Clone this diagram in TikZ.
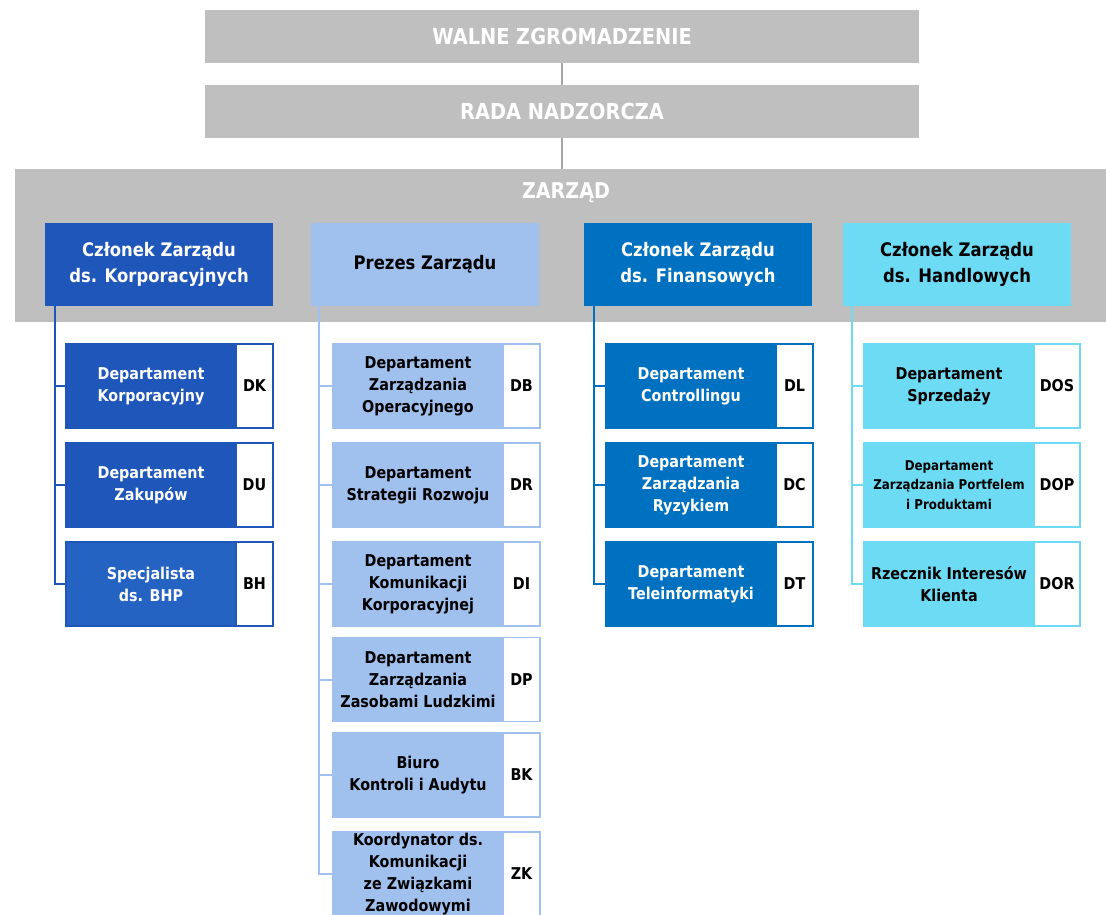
\documentclass[tikz,border=0pt]{standalone}
\usepackage{fontspec}
\setmainfont{DejaVu Sans}[FakeStretch=0.88]
\usetikzlibrary{positioning}
\definecolor{zgray}{HTML}{BFBFBF}
\definecolor{zline}{HTML}{A6A6A6}
\definecolor{kblue}{HTML}{1F56BA}
\definecolor{kblueb}{HTML}{2563C3}
\definecolor{pblue}{HTML}{A0C0EE}
\definecolor{fblue}{HTML}{0070C0}
\definecolor{hcyan}{HTML}{6EDBF5}
\newcommand{\pxu}{0.75pt}

\begin{document}
\begin{tikzpicture}[x=0.75pt,y=-0.75pt,node distance=0pt,
  topbox/.style={fill=zgray,text=white,minimum width=714*\pxu,minimum height=53*\pxu,font=\bfseries\fontsize{16.5}{20}\selectfont},
  headbox/.style={fill=#1,minimum width=228*\pxu,minimum height=83*\pxu,align=center,font=\bfseries\fontsize{14}{19.5}\selectfont},
  deptbox/.style={fill=#1,draw=#1,line width=1.1pt,outer sep=0pt,minimum width=170*\pxu,minimum height=84*\pxu,inner sep=1pt,align=center,font=\bfseries\fontsize{12.2}{16.5}\selectfont},
  codebox/.style={fill=white,draw=#1,line width=1.1pt,outer sep=0pt,minimum width=37*\pxu,minimum height=84*\pxu,inner sep=0pt,font=\bfseries\fontsize{12.2}{16.5}\selectfont},
  smalltext/.style={font=\bfseries\fontsize{10.1}{14.6}\selectfont},
  treeline/.style={draw=#1,line width=1.5pt},
  topline/.style={draw=zline,line width=1.5pt}]
  \useasboundingbox (0,0) rectangle (1106,914);

  % supervisory levels
  \node[topbox] (wz) at (562,36) {WALNE ZGROMADZENIE};
  \node[topbox] (rn) at (562,111.5) {RADA NADZORCZA};
  \node[fill=zgray,minimum width=1091*\pxu,minimum height=153*\pxu] (zd) at (560.5,245.5) {};
  \node[text=white,font=\bfseries\fontsize{16.3}{20}\selectfont] (zdt) at (566,193) {ZARZĄD};
  \draw[topline] (wz) -- (rn);
  \draw[topline] (rn.south) -- (rn.south |- zd.north);

  % board members
  \node[headbox=kblue,text=white] (h1) at (159,264.5) {Członek Zarządu\\ds. Korporacyjnych};
  \node[headbox=pblue] (h2) at (425,264.5) {Prezes Zarządu};
  \node[headbox=fblue,text=white] (h3) at (698,264.5) {Członek Zarządu\\ds. Finansowych};
  \node[headbox=hcyan] (h4) at (957,264.5) {Członek Zarządu\\ds. Handlowych};

  \coordinate (t1) at ([xshift=7.5pt]h1.south west);
  \coordinate (t2) at ([xshift=6pt]h2.south west);
  \coordinate (t3) at ([xshift=7.5pt]h3.south west);
  \coordinate (t4) at ([xshift=6.75pt]h4.south west);

  % departments
  \foreach \nm/\yy/\fc/\txt/\cd in {dk/386/kblue/{Departament\\Korporacyjny}/DK,
      du/485/kblue/{Departament\\Zakupów}/DU,
      bh/584/kblueb/{Specjalista\\ds. BHP}/BH}{
    \draw[treeline=kblue] (t1) |- (151,\yy);
    \node[deptbox=\fc,draw=kblue,text=white] (\nm) at (151,\yy) {\txt};
    \node[codebox=kblue,right=of \nm] (\nm-c) {\cd};
  }
  \foreach \nm/\yy/\txt/\cd in {db/386/{Departament\\Zarządzania\\Operacyjnego}/DB,
      dr/485/{Departament\\Strategii Rozwoju}/DR,
      di/584/{Departament\\Komunikacji\\Korporacyjnej}/DI,
      dp/679.5/{Departament\\Zarządzania\\Zasobami Ludzkimi}/DP,
      bk/775/{Biuro\\Kontroli i Audytu}/BK,
      zk/874/{Koordynator ds.\\Komunikacji\\ze Związkami\\Zawodowymi}/ZK}{
    \draw[treeline=pblue] (t2) |- (418,\yy);
    \node[deptbox=pblue] (\nm) at (418,\yy) {\txt};
    \node[codebox=pblue,right=of \nm] (\nm-c) {\cd};
  }
  \foreach \nm/\yy/\txt/\cd in {dl/386/{Departament\\Controllingu}/DL,
      dc/485/{Departament\\Zarządzania\\Ryzykiem}/DC,
      dt/584/{Departament\\Teleinformatyki}/DT}{
    \draw[treeline=fblue] (t3) |- (691,\yy);
    \node[deptbox=fblue,text=white] (\nm) at (691,\yy) {\txt};
    \node[codebox=fblue,right=of \nm] (\nm-c) {\cd};
  }
  \foreach \nm/\yy/\txt/\cd in {dos/386/{Departament\\Sprzedaży}/DOS,
      dor/584/{Rzecznik Interesów\\Klienta}/DOR}{
    \draw[treeline=hcyan] (t4) |- (949,\yy);
    \node[deptbox=hcyan] (\nm) at (949,\yy) {\txt};
    \node[codebox=hcyan,minimum width=46*\pxu,right=of \nm] (\nm-c) {\cd};
  }
  \draw[treeline=hcyan] (t4) |- (949,485);
  \node[deptbox=hcyan,smalltext] (dop) at (949,485) {Departament\\Zarządzania Portfelem\\i Produktami};
  \node[codebox=hcyan,minimum width=46*\pxu,right=of dop] (dop-c) {DOP};
\end{tikzpicture}
\end{document}
